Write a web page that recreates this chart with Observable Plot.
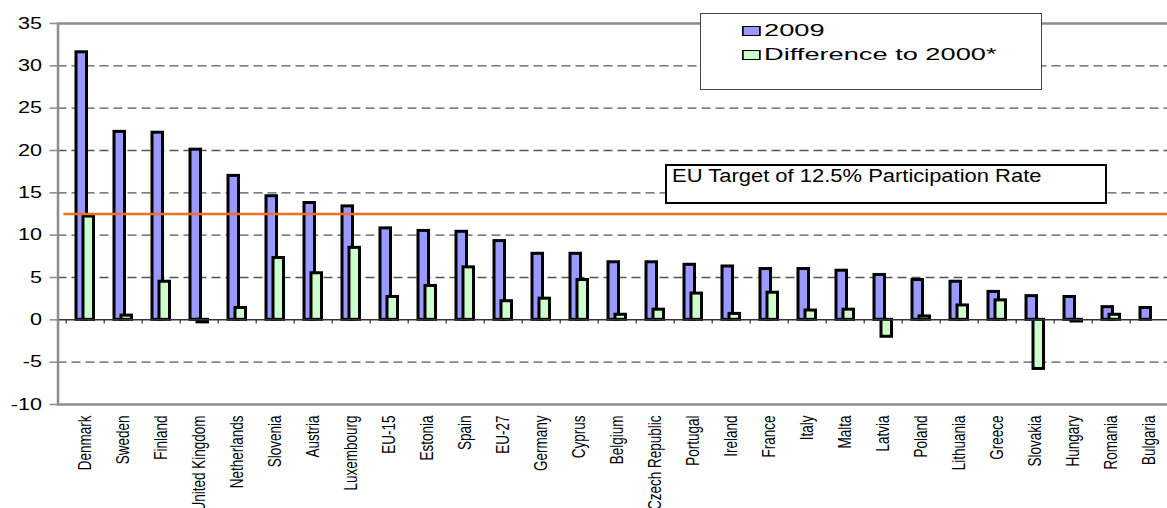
<!DOCTYPE html>
<html>
<head>
<meta charset="utf-8">
<script src="https://cdn.jsdelivr.net/npm/d3@7"></script>
<script src="https://cdn.jsdelivr.net/npm/@observablehq/plot@0.6"></script>
<style>
  html, body { margin: 0; padding: 0; background: #fff; }
  #wrap { position: relative; width: 1167px; height: 508px; overflow: hidden;
          font-family: "Liberation Sans", Arial, sans-serif; color: #000; }
  #wrap svg { position: absolute; left: 0; top: 0; }
  .legend { position: absolute; left: 700px; top: 12.5px; width: 342px; height: 77px;
            border: 1.5px solid #444; background: #fff; box-sizing: border-box; }
  .legend .inner { position: absolute; left: 41px; top: 0; transform: scaleX(1.7); transform-origin: 0 0; }
  .legend .row { position: absolute; left: 0; white-space: nowrap; font-size: 16px; line-height: 16px;
                 display: flex; align-items: center; }
  .legend .sw { width: 9px; height: 7.5px; border: 1.5px solid #000; margin-right: 2px; }
  .target { position: absolute; left: 665px; top: 164px; width: 442px; height: 39.5px;
            border: 2.5px solid #000; background: #fff; box-sizing: border-box; }
  .target span { position: absolute; left: 5px; top: 0.5px; font-size: 18px; line-height: 18px;
                 transform: scaleX(1.22); transform-origin: 0 0; white-space: nowrap; }
</style>
</head>
<body>
<div id="wrap"></div>
<script>
// Adult participation in education and training (% of population aged 25-64)
const countries = ["Denmark", "Sweden", "Finland", "United Kingdom", "Netherlands", "Slovenia",
  "Austria", "Luxembourg", "EU-15", "Estonia", "Spain", "EU-27", "Germany", "Cyprus", "Belgium",
  "Czech Republic", "Portugal", "Ireland", "France", "Italy", "Malta", "Latvia", "Poland",
  "Lithuania", "Greece", "Slovakia", "Hungary", "Romania", "Bulgaria"];
const rate2009 = [31.6, 22.2, 22.1, 20.1, 17.0, 14.6, 13.8, 13.4, 10.8, 10.5, 10.4, 9.3, 7.8, 7.8,
  6.8, 6.8, 6.5, 6.3, 6.0, 6.0, 5.8, 5.3, 4.7, 4.5, 3.3, 2.8, 2.7, 1.5, 1.4];
const diff2000 = [12.2, 0.5, 4.5, -0.3, 1.4, 7.3, 5.5, 8.5, 2.7, 4.0, 6.2, 2.2, 2.5, 4.7,
  0.6, 1.2, 3.1, 0.7, 3.2, 1.1, 1.2, -2.0, 0.4, 1.7, 2.3, -5.8, -0.2, 0.6, null];
const seriesNames = ["2009", "Difference to 2000*"];
const seriesColors = ["#9999FF", "#CCFFCC"];
const targetRate = 12.5;
const targetLabel = "EU Target of 12.5% Participation Rate";
const yTicks = [-10, -5, 0, 5, 10, 15, 20, 25, 30, 35];
const gridValues = [-5, 5, 10, 15, 20, 25, 30];

const rows = countries.map((country, i) => ({country, v2009: rate2009[i], diff: diff2000[i]}));
const band = (1167 + 10 - 57.5) / countries.length;

const chart = Plot.plot({
  width: 1167,
  height: 508,
  marginLeft: 57.5,
  marginRight: -10,
  marginTop: 23,
  marginBottom: 104,
  style: {fontFamily: '"Liberation Sans", Arial, sans-serif', background: "#fff", color: "#000"},
  x: {domain: countries, padding: 0, label: null, axis: null},
  y: {domain: [-10, 35], label: null, axis: null},
  marks: [
    Plot.ruleY(gridValues, {stroke: "#555", strokeWidth: 1.3, strokeDasharray: "9,5"}),
    Plot.barY(rows, {x: "country", y: "v2009", fill: seriesColors[0], stroke: "#000",
      strokeWidth: 3, insetLeft: 10, insetRight: 17.5}),
    Plot.barY(rows.filter((d) => d.diff != null), {x: "country", y: "diff", fill: seriesColors[1],
      stroke: "#000", strokeWidth: 3, insetLeft: 17, insetRight: 10.5}),
    Plot.ruleY([0], {stroke: "#333", strokeWidth: 1.5}),
    Plot.ruleX(countries, {x: (d) => d, dx: -band / 2, y1: 0, y2: -0.5, stroke: "#333", strokeWidth: 1.2}),
    Plot.ruleY([targetRate], {stroke: "#F07020", strokeWidth: 2.5, insetLeft: 6}),
    Plot.frame({stroke: "#8c8c8c", strokeWidth: 2.5}),
    Plot.axisY(yTicks, {tickSize: 8, tickPadding: 8, stroke: "#8c8c8c", strokeWidth: 1.5, fill: "#000",
      fontSize: 16, tickFormat: (d) => String(d)}),
    Plot.axisX({tickRotate: -90, tickSize: 0, tickPadding: 11, fill: "#000", fontSize: 13.5})
  ]
});

// widen the tick labels horizontally (rotated labels stretch along their local y)
for (const t of chart.querySelectorAll("text")) {
  const tr = t.getAttribute("transform") || "";
  const rotated = /rotate\(\s*-90/.test(tr);
  t.setAttribute("transform", tr + (rotated ? " scale(1,1.35)" : " scale(1.35,1)"));
}

const wrap = document.getElementById("wrap");
wrap.appendChild(chart);

// target annotation box
const target = document.createElement("div");
target.className = "target";
const tspan = document.createElement("span");
tspan.textContent = targetLabel;
target.appendChild(tspan);
wrap.appendChild(target);

// legend box
const legend = document.createElement("div");
legend.className = "legend";
const inner = document.createElement("div");
inner.className = "inner";
const rowTops = [9.7, 33.5];
seriesNames.forEach((name, i) => {
  const row = document.createElement("div");
  row.className = "row";
  row.style.top = rowTops[i] + "px";
  const sw = document.createElement("div");
  sw.className = "sw";
  sw.style.background = seriesColors[i];
  const label = document.createElement("span");
  label.textContent = name;
  row.appendChild(sw);
  row.appendChild(label);
  inner.appendChild(row);
});
legend.appendChild(inner);
wrap.appendChild(legend);
</script>
</body>
</html>
